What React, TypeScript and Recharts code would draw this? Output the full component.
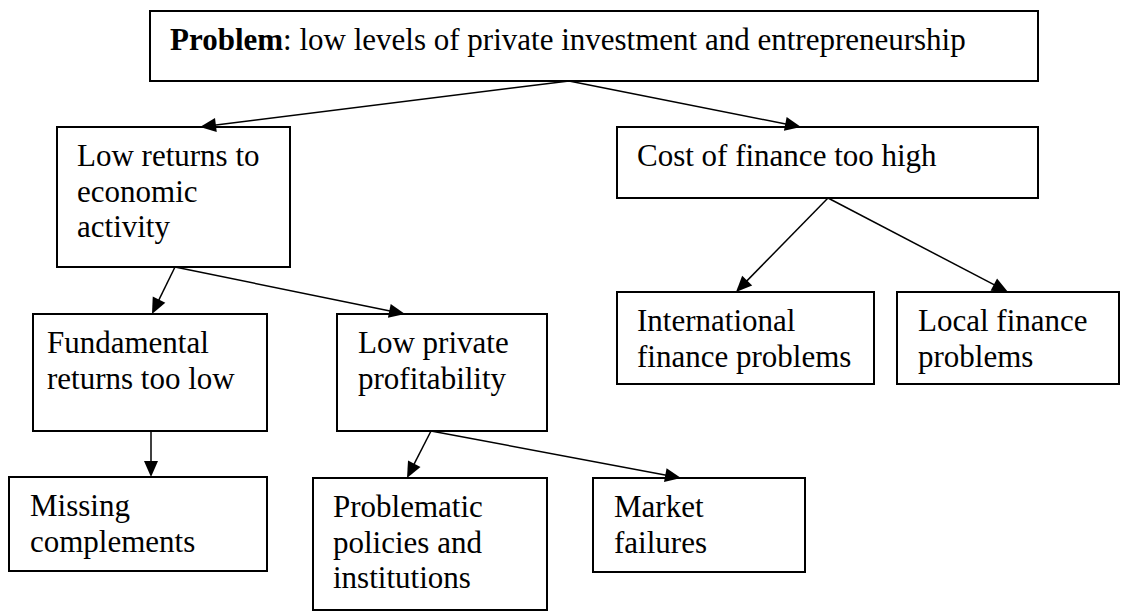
import React from 'react';
import { ScatterChart, XAxis, YAxis, ReferenceArea, ReferenceLine } from 'recharts';

// ---- Diagram data (diagram units: x 0..1121, y 0..612, y grows downward) ----
const nodeIds = [
  'problem',
  'lowReturns',
  'costFinance',
  'fundamental',
  'lowProfit',
  'international',
  'local',
  'missing',
  'problematic',
  'market',
];

const nodeBoldPrefix = ['Problem', '', '', '', '', '', '', '', '', ''];

const nodeLines: string[][] = [
  [': low levels of private investment and entrepreneurship'],
  ['Low returns to', 'economic', 'activity'],
  ['Cost of finance too high'],
  ['Fundamental', 'returns too low'],
  ['Low private', 'profitability'],
  ['International', 'finance problems'],
  ['Local finance', 'problems'],
  ['Missing', 'complements'],
  ['Problematic', 'policies and', 'institutions'],
  ['Market', 'failures'],
];

const nodeLeft = [150, 57, 617, 33, 337, 617, 897, 9, 313, 593];
const nodeRight = [1038, 290, 1038, 267, 547, 874, 1119, 267, 547, 805];
const nodeTop = [11, 127, 127, 314, 314, 292, 292, 477, 478, 478];
const nodeBottom = [81, 267, 198, 431, 431, 384, 384, 571, 610, 572];

const edgeFrom = ['problem', 'problem', 'lowReturns', 'lowReturns', 'fundamental', 'lowProfit', 'lowProfit', 'costFinance', 'costFinance'];
const edgeTo = ['lowReturns', 'costFinance', 'fundamental', 'lowProfit', 'missing', 'problematic', 'market', 'international', 'local'];
const edgeStartX = [569, 569, 175, 175, 151, 431, 431, 828, 828];
const edgeEndX = [200, 801, 152, 405, 151, 407, 681, 736, 1008];

// ---- Styles ----
const W = 1121;
const H = 612;
const FONT = '"Liberation Serif", "Times New Roman", Times, serif';
const FONT_SIZE = 31;
const LINE_GAP = 35.5;
const FIRST_BASELINE = 39;
const TEXT_INSET = [20, 20, 20, 14, 21, 20, 21, 21, 20, 21];

const makeNodeShape = (i: number) => (props: any) => {
  const { x, y, width, height } = props;
  const lines = nodeLines[i];
  return (
    <g>
      <rect x={x} y={y} width={width} height={height} fill="none" stroke="#000" strokeWidth={2} />
      <text fontFamily={FONT} fontSize={FONT_SIZE} fill="#000">
        {lines.map((ln, k) => (
          <tspan key={k} x={x + TEXT_INSET[i]} y={y + FIRST_BASELINE + k * LINE_GAP}>
            {k === 0 && nodeBoldPrefix[i] ? (
              <tspan fontWeight="bold">{nodeBoldPrefix[i]}</tspan>
            ) : null}
            {ln}
          </tspan>
        ))}
      </text>
    </g>
  );
};

const ArrowShape = (props: any) => {
  const { x1, y1, x2, y2 } = props;
  const dx = x2 - x1;
  const dy = y2 - y1;
  const len = Math.sqrt(dx * dx + dy * dy) || 1;
  const ux = dx / len;
  const uy = dy / len;
  const headLen = 16;
  const headHalf = 7;
  const bx = x2 - ux * headLen;
  const by = y2 - uy * headLen;
  const px = -uy * headHalf;
  const py = ux * headHalf;
  return (
    <g>
      <line x1={x1} y1={y1} x2={x2 - ux * 4} y2={y2 - uy * 4} stroke="#000" strokeWidth={1.5} />
      <polygon points={`${x2},${y2} ${bx + px},${by + py} ${bx - px},${by - py}`} fill="#000" stroke="none" />
    </g>
  );
};

export default function App() {
  return (
    <div style={{ position: 'absolute', left: 0, top: 0, width: W, height: H, background: '#fff' }}>
      <ScatterChart width={W} height={H} margin={{ top: 0, right: 0, bottom: 0, left: 0 }}>
        <XAxis type="number" dataKey="x" domain={[0, W]} hide allowDataOverflow />
        <YAxis type="number" dataKey="y" domain={[0, H]} reversed hide allowDataOverflow />
        {nodeIds.map((id, i) => (
          <ReferenceArea
            key={id}
            x1={nodeLeft[i]}
            x2={nodeRight[i]}
            y1={nodeTop[i]}
            y2={nodeBottom[i]}
            ifOverflow="visible"
            shape={makeNodeShape(i)}
          />
        ))}
        {edgeFrom.map((from, j) => {
          const s = nodeIds.indexOf(from);
          const t = nodeIds.indexOf(edgeTo[j]);
          return (
            <ReferenceLine
              key={`e${j}`}
              ifOverflow="visible"
              segment={[
                { x: edgeStartX[j], y: nodeBottom[s] },
                { x: edgeEndX[j], y: nodeTop[t] },
              ]}
              shape={ArrowShape}
            />
          );
        })}
      </ScatterChart>
    </div>
  );
}
